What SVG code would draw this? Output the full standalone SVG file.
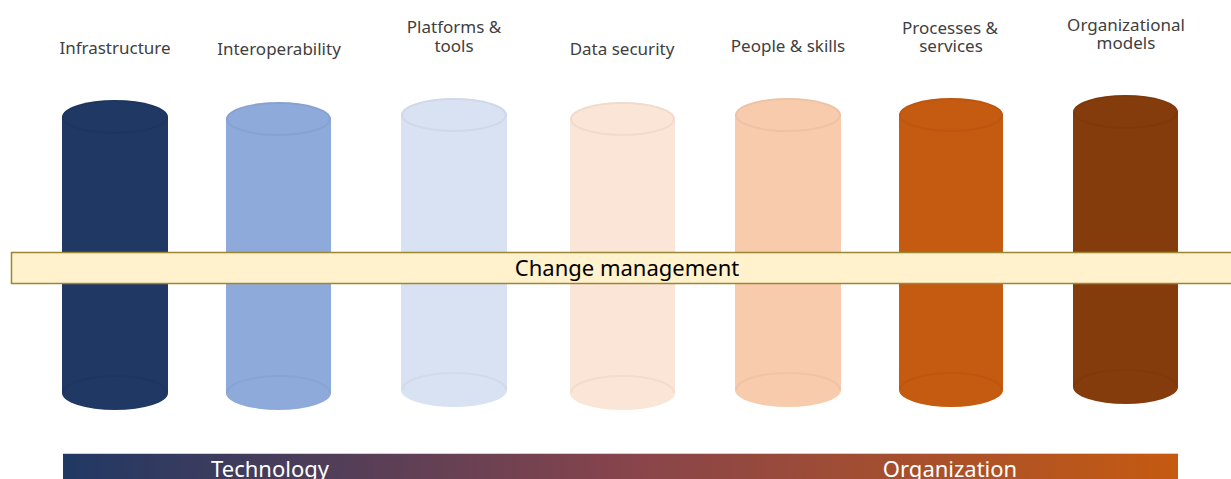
<svg xmlns="http://www.w3.org/2000/svg" width="1231" height="479" viewBox="0 0 1231 479">
<style>
.lbl{font-family:"Noto Sans","Open Sans","Liberation Sans",sans-serif;font-size:17px;fill:#404040;text-anchor:middle}
.rim{fill:none;stroke:#000;stroke-opacity:0.045;stroke-width:2}
.arc{fill:none;stroke:#000;stroke-opacity:0.035;stroke-width:2}
.band{font-family:"Noto Sans","Open Sans","Liberation Sans",sans-serif;font-size:22px;fill:#000;text-anchor:middle}
.bar{font-family:"Noto Sans","Open Sans","Liberation Sans",sans-serif;font-size:22px;fill:#fff;text-anchor:middle}
</style>
<defs>
<linearGradient id="g" x1="0" y1="0" x2="1" y2="0">
<stop offset="0" stop-color="#203864"/>
<stop offset="0.5" stop-color="#86444c"/>
<stop offset="1" stop-color="#c55a11"/>
</linearGradient>
</defs>
<rect width="1231" height="479" fill="#fff"/>

<g id="infrastructure">
<path d="M62,117 V393 A53,17 0 0 0 168,393 V117 A53,17 0 0 0 62,117 Z" fill="#1f3864"/>
<ellipse class="rim" cx="115" cy="117" rx="52" ry="16"/>
<path class="arc" d="M63,393 A52,17 0 0 1 167,393"/>
<text class="lbl" x="115" y="54">Infrastructure</text>
</g>

<g id="interoperability">
<path d="M226,119 V393 A52.5,17 0 0 0 331,393 V119 A52.5,17 0 0 0 226,119 Z" fill="#8eaadb"/>
<ellipse class="rim" cx="278.5" cy="119" rx="51.5" ry="16"/>
<path class="arc" d="M227,393 A51.5,17 0 0 1 330,393"/>
<text class="lbl" x="279" y="55">Interoperability</text>
</g>

<g id="platforms">
<path d="M401,115 V390 A53,17 0 0 0 507,390 V115 A53,17 0 0 0 401,115 Z" fill="#d9e2f3"/>
<ellipse class="rim" cx="454" cy="115" rx="52" ry="16"/>
<path class="arc" d="M402,390 A52,17 0 0 1 506,390"/>
<text class="lbl" x="454" y="33">Platforms &amp;</text>
<text class="lbl" x="454" y="52">tools</text>
</g>

<g id="datasecurity">
<path d="M570,119 V393 A52.5,17 0 0 0 675,393 V119 A52.5,17 0 0 0 570,119 Z" fill="#fbe5d6"/>
<ellipse class="rim" cx="622.5" cy="119" rx="51.5" ry="16"/>
<path class="arc" d="M571,393 A51.5,17 0 0 1 674,393"/>
<text class="lbl" x="622" y="55">Data security</text>
</g>

<g id="people">
<path d="M735,115 V390 A53,17 0 0 0 841,390 V115 A53,17 0 0 0 735,115 Z" fill="#f8cbad"/>
<ellipse class="rim" cx="788" cy="115" rx="52" ry="16"/>
<path class="arc" d="M736,390 A52,17 0 0 1 840,390"/>
<text class="lbl" x="788" y="52">People &amp; skills</text>
</g>

<g id="processes">
<path d="M899,115 V390 A52,17 0 0 0 1003,390 V115 A52,17 0 0 0 899,115 Z" fill="#c55a11"/>
<ellipse class="rim" cx="951" cy="115" rx="51" ry="16"/>
<path class="arc" d="M900,390 A51,17 0 0 1 1002,390"/>
<text class="lbl" x="950" y="34">Processes &amp;</text>
<text class="lbl" x="951" y="52">services</text>
</g>

<g id="orgmodels">
<path d="M1073,112 V387 A52.5,17 0 0 0 1178,387 V112 A52.5,17 0 0 0 1073,112 Z" fill="#843c0c"/>
<ellipse class="rim" cx="1125.5" cy="112" rx="51.5" ry="16"/>
<path class="arc" d="M1074,387 A51.5,17 0 0 1 1177,387"/>
<text class="lbl" x="1126" y="31">Organizational</text>
<text class="lbl" x="1126" y="49">models</text>
</g>

<g id="change">
<rect x="11.5" y="252.5" width="1225" height="31" fill="#fff2cc" stroke="#9c8534" stroke-width="1.5"/>
<text class="band" x="627" y="276">Change management</text>
</g>

<g id="bottombar">
<rect x="63" y="453" width="1115" height="30" fill="url(#g)"/>
<line x1="63" y1="453.5" x2="1178" y2="453.5" stroke="#d0d0d0" stroke-width="1"/>
<text class="bar" x="270" y="477">Technology</text>
<text class="bar" x="950" y="477">Organization</text>
</g>

<g id="connectors"/>
</svg>
